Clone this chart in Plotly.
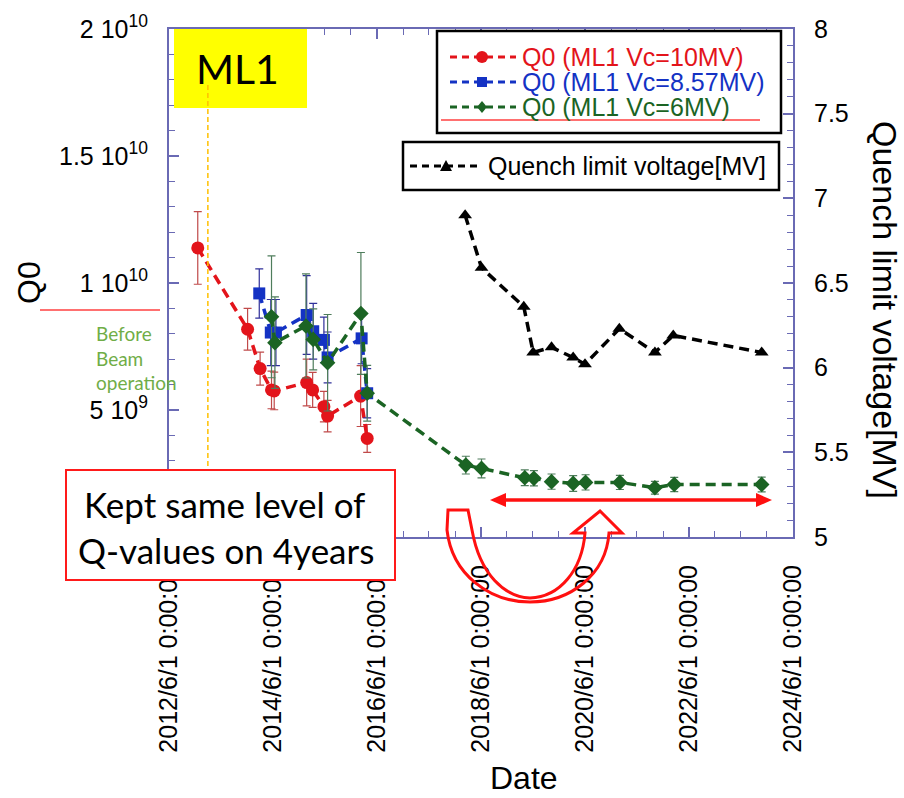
import plotly.graph_objects as go

# ---------------- data ----------------
red_dates = ["2012-12-20", "2013-12-05", "2014-03-03", "2014-05-22", "2014-06-10", "2015-01-24",
             "2015-03-07", "2015-05-25", "2015-06-20", "2016-02-07", "2016-03-24"]
red_q0 = [11.38e9, 8.18e9, 6.63e9, 5.79e9, 5.75e9, 6.08e9, 5.79e9, 5.13e9, 4.76e9, 5.55e9, 3.88e9]
red_err = [1.43e9, 0.82e9, 0.65e9, 0.74e9, 0.74e9, 0.92e9, 0.69e9, 0.6e9, 0.62e9, 1.2e9, 0.55e9]

blue_dates = ["2014-02-25", "2014-05-17", "2014-06-22", "2015-01-24", "2015-03-11", "2015-05-25",
              "2015-06-20", "2016-02-14", "2016-03-24"]
blue_q0 = [9.59e9, 8.05e9, 8.05e9, 8.74e9, 8.10e9, 7.76e9, 7.07e9, 7.82e9, 5.66e9]
blue_err = [0.97e9, 1.3e9, 1.3e9, 1.55e9, 1.1e9, 0.9e9, 1.0e9, 1.0e9, 0.97e9]

green_dates = ["2014-05-22", "2014-06-15", "2015-01-19", "2015-03-11", "2015-06-20", "2016-02-09",
               "2016-03-24", "2018-02-15", "2018-06-05", "2019-04-05", "2019-06-08", "2019-10-10",
               "2020-03-10", "2020-06-05", "2021-02-01", "2021-10-05", "2022-02-18", "2023-10-25"]
green_q0 = [8.67e9, 7.65e9, 8.31e9, 7.78e9, 6.86e9, 8.80e9, 5.66e9, 2.83e9, 2.70e9, 2.33e9, 2.31e9,
            2.18e9, 2.11e9, 2.15e9, 2.15e9, 1.94e9, 2.07e9, 2.07e9]
green_err = [2.4e9, 1.8e9, 2.05e9, 1.2e9, 1.9e9, 2.4e9, 1.1e9, 0.35e9, 0.37e9, 0.31e9, 0.3e9,
             0.3e9, 0.31e9, 0.3e9, 0.28e9, 0.25e9, 0.28e9, 0.29e9]

quench_dates = ["2018-02-10", "2018-06-05", "2019-03-29", "2019-06-03", "2019-10-10", "2020-03-10",
                "2020-06-01", "2021-01-28", "2021-10-05", "2022-02-11", "2023-10-25"]
quench_v = [6.90, 6.59, 6.36, 6.09, 6.12, 6.06, 6.02, 6.23, 6.09, 6.19, 6.09]

ml1_start = "2013-03-01"

x_tick_vals = [f"{y}-06-01" for y in range(2012, 2025, 2)]
x_tick_text = [f"{y}/6/1 0:00:00" for y in range(2012, 2025, 2)]
y_tick_vals = [5e9, 1e10, 1.5e10, 2e10]
y_tick_text = ["5 10<sup>9</sup>", "1 10<sup>10</sup>", "1.5 10<sup>10</sup>", "2 10<sup>10</sup>"]
y2_tick_vals = [5, 5.5, 6, 6.5, 7, 7.5, 8]
y2_tick_text = ["5", "5.5", "6", "6.5", "7", "7.5", "8"]

legend_names = ["Q0 (ML1 Vc=10MV)", "Q0 (ML1 Vc=8.57MV)", "Q0 (ML1 Vc=6MV)"]
quench_name = "Quench limit voltage[MV]"

# ---------------- style ----------------
RED, BLUE, GREEN, BLACK = "#e3141b", "#1432c4", "#1b6424", "#000000"
AX = "#6a6ab4"
FONT = "Liberation Sans, Arial, sans-serif"
CAL = "Lato, Open Sans, sans-serif"
W, H = 904, 798
L, R, T, B = 169, 793, 29, 537


def P(x):
    return (x - L) / (R - L)


def Q(y):
    return (B - y) / (B - T)


def pt(x, y):
    return f"{P(x):.5f},{Q(y):.5f}"


fig = go.Figure()
DASH = "10px,6px"
fig.add_trace(go.Scatter(x=red_dates, y=red_q0, mode="lines+markers", name=legend_names[0],
                         line=dict(color=RED, width=3.5, dash=DASH),
                         marker=dict(symbol="circle", size=13, color=RED),
                         error_y=dict(type="data", array=red_err, color="#c04a4a", thickness=1.2, width=4)))
fig.add_trace(go.Scatter(x=blue_dates, y=blue_q0, mode="lines+markers", name=legend_names[1],
                         line=dict(color=BLUE, width=3.5, dash=DASH),
                         marker=dict(symbol="square", size=12, color=BLUE),
                         error_y=dict(type="data", array=blue_err, color="#30309a", thickness=1.2, width=4)))
fig.add_trace(go.Scatter(x=green_dates, y=green_q0, mode="lines+markers", name=legend_names[2],
                         line=dict(color=GREEN, width=3.5, dash=DASH),
                         marker=dict(symbol="diamond", size=12, color=GREEN),
                         error_y=dict(type="data", array=green_err, color="#4f7d5c", thickness=1.2, width=4)))
fig.add_trace(go.Scatter(x=quench_dates, y=quench_v, mode="lines+markers", name=quench_name, yaxis="y2",
                         line=dict(color=BLACK, width=3.5, dash=DASH),
                         marker=dict(symbol="triangle-up", size=12, color=BLACK)))

shapes = []
annots = []

# ML1 box + start line
shapes.append(dict(type="rect", xref="paper", yref="paper", x0=P(174), x1=P(307), y0=Q(108), y1=Q(29),
                   fillcolor="#ffff00", line=dict(width=0), layer="above"))
shapes.append(dict(type="line", xref="x", yref="paper", x0=ml1_start, x1=ml1_start, y0=Q(85), y1=Q(537),
                   line=dict(color="#ffc000", width=1.5, dash="5px,3px"), layer="above"))
annots.append(dict(text="ML1", xref="paper", yref="paper", x=P(237), y=Q(69), showarrow=False,
                   font=dict(family=CAL, size=41, color="black"), xanchor="center", yanchor="middle"))

# left decoration
shapes.append(dict(type="line", xref="paper", yref="paper", x0=P(40), x1=P(160), y0=Q(310), y1=Q(310),
                   line=dict(color="#ff4040", width=1.5)))
annots.append(dict(text="Before<br>Beam<br>operation", xref="paper", yref="paper", x=P(94), y=Q(358),
                   showarrow=False, align="left", xanchor="left", yanchor="middle",
                   font=dict(family=CAL, size=19, color="#70ad47")))

# legend 1
shapes.append(dict(type="rect", xref="paper", yref="paper", x0=P(437), x1=P(781), y0=Q(133), y1=Q(31),
                   fillcolor="white", line=dict(color="black", width=2.5), layer="above"))
leg_cols = [RED, BLUE, GREEN]
leg_y = [57, 82, 107]
for i, (c, yy) in enumerate(zip(leg_cols, leg_y)):
    shapes.append(dict(type="line", xref="paper", yref="paper", x0=P(450), x1=P(516), y0=Q(yy), y1=Q(yy),
                       line=dict(color=c, width=3, dash="7px,5px"), layer="above"))
    mx = 482
    if i == 0:
        shapes.append(dict(type="circle", xref="paper", yref="paper", x0=P(mx - 6), x1=P(mx + 6),
                           y0=Q(yy + 6), y1=Q(yy - 6), fillcolor=c, line=dict(width=0), layer="above"))
    elif i == 1:
        shapes.append(dict(type="rect", xref="paper", yref="paper", x0=P(mx - 5), x1=P(mx + 5),
                           y0=Q(yy + 5), y1=Q(yy - 5), fillcolor=c, line=dict(width=0), layer="above"))
    else:
        shapes.append(dict(type="path", xref="paper", yref="paper",
                           path=f"M {pt(mx, yy - 6)} L {pt(mx + 5, yy)} L {pt(mx, yy + 6)} L {pt(mx - 5, yy)} Z",
                           fillcolor=c, line=dict(width=0), layer="above"))
    annots.append(dict(text=legend_names[i], xref="paper", yref="paper", x=P(520), y=Q(yy), showarrow=False,
                       xanchor="left", yanchor="middle", font=dict(family=FONT, size=25, color=c)))
shapes.append(dict(type="line", xref="paper", yref="paper", x0=P(441), x1=P(760), y0=Q(120), y1=Q(120),
                   line=dict(color="#ff4040", width=1.5), layer="above"))

# legend 2
shapes.append(dict(type="rect", xref="paper", yref="paper", x0=P(403), x1=P(779), y0=Q(190), y1=Q(142),
                   fillcolor="white", line=dict(color="black", width=2.5), layer="above"))
shapes.append(dict(type="line", xref="paper", yref="paper", x0=P(410), x1=P(480), y0=Q(166), y1=Q(166),
                   line=dict(color="black", width=3, dash="7px,5px"), layer="above"))
shapes.append(dict(type="path", xref="paper", yref="paper",
                   path=f"M {pt(446, 160)} L {pt(452, 171)} L {pt(440, 171)} Z",
                   fillcolor="black", line=dict(width=0), layer="above"))
annots.append(dict(text=quench_name, xref="paper", yref="paper", x=P(486), y=Q(166), showarrow=False,
                   xanchor="left", yanchor="middle", font=dict(family=FONT, size=25, color="black")))

# comment box
shapes.append(dict(type="rect", xref="paper", yref="paper", x0=P(66), x1=P(395), y0=Q(580), y1=Q(470),
                   fillcolor="white", line=dict(color="#ff1a1a", width=2), layer="above"))
annots.append(dict(text="Kept same level of", xref="paper", yref="paper", x=P(224), y=Q(504), showarrow=False,
                   xanchor="center", yanchor="middle", font=dict(family=CAL, size=35, color="black")))
annots.append(dict(text="Q-values on 4years", xref="paper", yref="paper", x=P(226), y=Q(550), showarrow=False,
                   xanchor="center", yanchor="middle", font=dict(family=CAL, size=35, color="black")))

# double arrow
shapes.append(dict(type="line", xref="paper", yref="paper", x0=P(503), x1=P(759), y0=Q(500), y1=Q(500),
                   line=dict(color="#ff1010", width=3.5), layer="above"))
shapes.append(dict(type="path", xref="paper", yref="paper",
                   path=f"M {pt(490, 500)} L {pt(506, 493)} L {pt(506, 507)} Z",
                   fillcolor="#ff1010", line=dict(width=0), layer="above"))
shapes.append(dict(type="path", xref="paper", yref="paper",
                   path=f"M {pt(772, 500)} L {pt(756, 493)} L {pt(756, 507)} Z",
                   fillcolor="#ff1010", line=dict(width=0), layer="above"))

# U-turn hollow arrow
u_path = (f"M {pt(448, 510)} L {pt(468, 510)} L {pt(472, 530)} "
          f"C {pt(480, 575)} {pt(505, 597)} {pt(530, 598)} "
          f"C {pt(560, 597)} {pt(582, 570)} {pt(585, 533)} "
          f"L {pt(573, 533)} L {pt(600, 511)} L {pt(622, 533)} L {pt(609, 533)} "
          f"C {pt(606, 575)} {pt(570, 602)} {pt(530, 602)} "
          f"C {pt(490, 602)} {pt(452, 575)} {pt(447, 530)} Z")
shapes.append(dict(type="path", xref="paper", yref="paper", path=u_path,
                   line=dict(color="#ff1010", width=3), fillcolor="rgba(0,0,0,0)", layer="above"))

# axis titles
annots.append(dict(text="Q0", xref="paper", yref="paper", x=P(29), y=Q(283), showarrow=False, textangle=-90,
                   xanchor="center", yanchor="middle", font=dict(family=FONT, size=32, color="black")))
annots.append(dict(text=quench_name, xref="paper", yref="paper", x=P(885), y=Q(310), showarrow=False,
                   textangle=90, xanchor="center", yanchor="middle",
                   font=dict(family=FONT, size=34, color="black")))
annots.append(dict(text="Date", xref="paper", yref="paper", x=P(524), y=Q(778), showarrow=False,
                   xanchor="center", yanchor="middle", font=dict(family=FONT, size=32, color="black")))

tickfont = dict(family=FONT, size=25, color="black")
fig.update_layout(
    width=W, height=H, showlegend=False,
    paper_bgcolor="white", plot_bgcolor="white",
    margin=dict(l=L, r=W - R, t=T, b=H - B, pad=0),
    xaxis=dict(type="date", range=["2012-06-01", "2024-06-01"], tickmode="array",
               tickvals=x_tick_vals, ticktext=x_tick_text, tickangle=-90,
               ticks="inside", ticklen=10, tickwidth=1.5, tickcolor=AX,
               showline=True, linecolor=AX, linewidth=2, mirror="ticks",
               showgrid=False, zeroline=False, tickfont=tickfont, ticklabelstandoff=16,
               minor=dict(dtick="M6", tick0="2012-06-01", ticks="inside", ticklen=6,
                          tickwidth=1.2, tickcolor=AX, showgrid=False)),
    yaxis=dict(range=[0, 2e10], tickmode="array", tickvals=y_tick_vals, ticktext=y_tick_text,
               ticks="inside", ticklen=10, tickwidth=1.5, tickcolor=AX,
               showline=True, linecolor=AX, linewidth=2, mirror=False,
               showgrid=False, zeroline=False, tickfont=tickfont, ticklabelstandoff=14,
               minor=dict(dtick=1e9, tick0=0, ticks="inside", ticklen=6, tickwidth=1.2,
                          tickcolor=AX, showgrid=False)),
    yaxis2=dict(range=[5, 8], overlaying="y", side="right", tickmode="array",
                tickvals=y2_tick_vals, ticktext=y2_tick_text,
                ticks="inside", ticklen=10, tickwidth=1.5, tickcolor=AX,
                showline=True, linecolor=AX, linewidth=2,
                showgrid=False, zeroline=False, tickfont=tickfont, ticklabelstandoff=14,
                minor=dict(dtick=0.1, tick0=5, ticks="inside", ticklen=6, tickwidth=1.2,
                           tickcolor=AX, showgrid=False)),
    shapes=shapes, annotations=annots,
)

fig.write_html("out.html", config={"displayModeBar": False},
               post_script="document.body.style.margin='0px';")
